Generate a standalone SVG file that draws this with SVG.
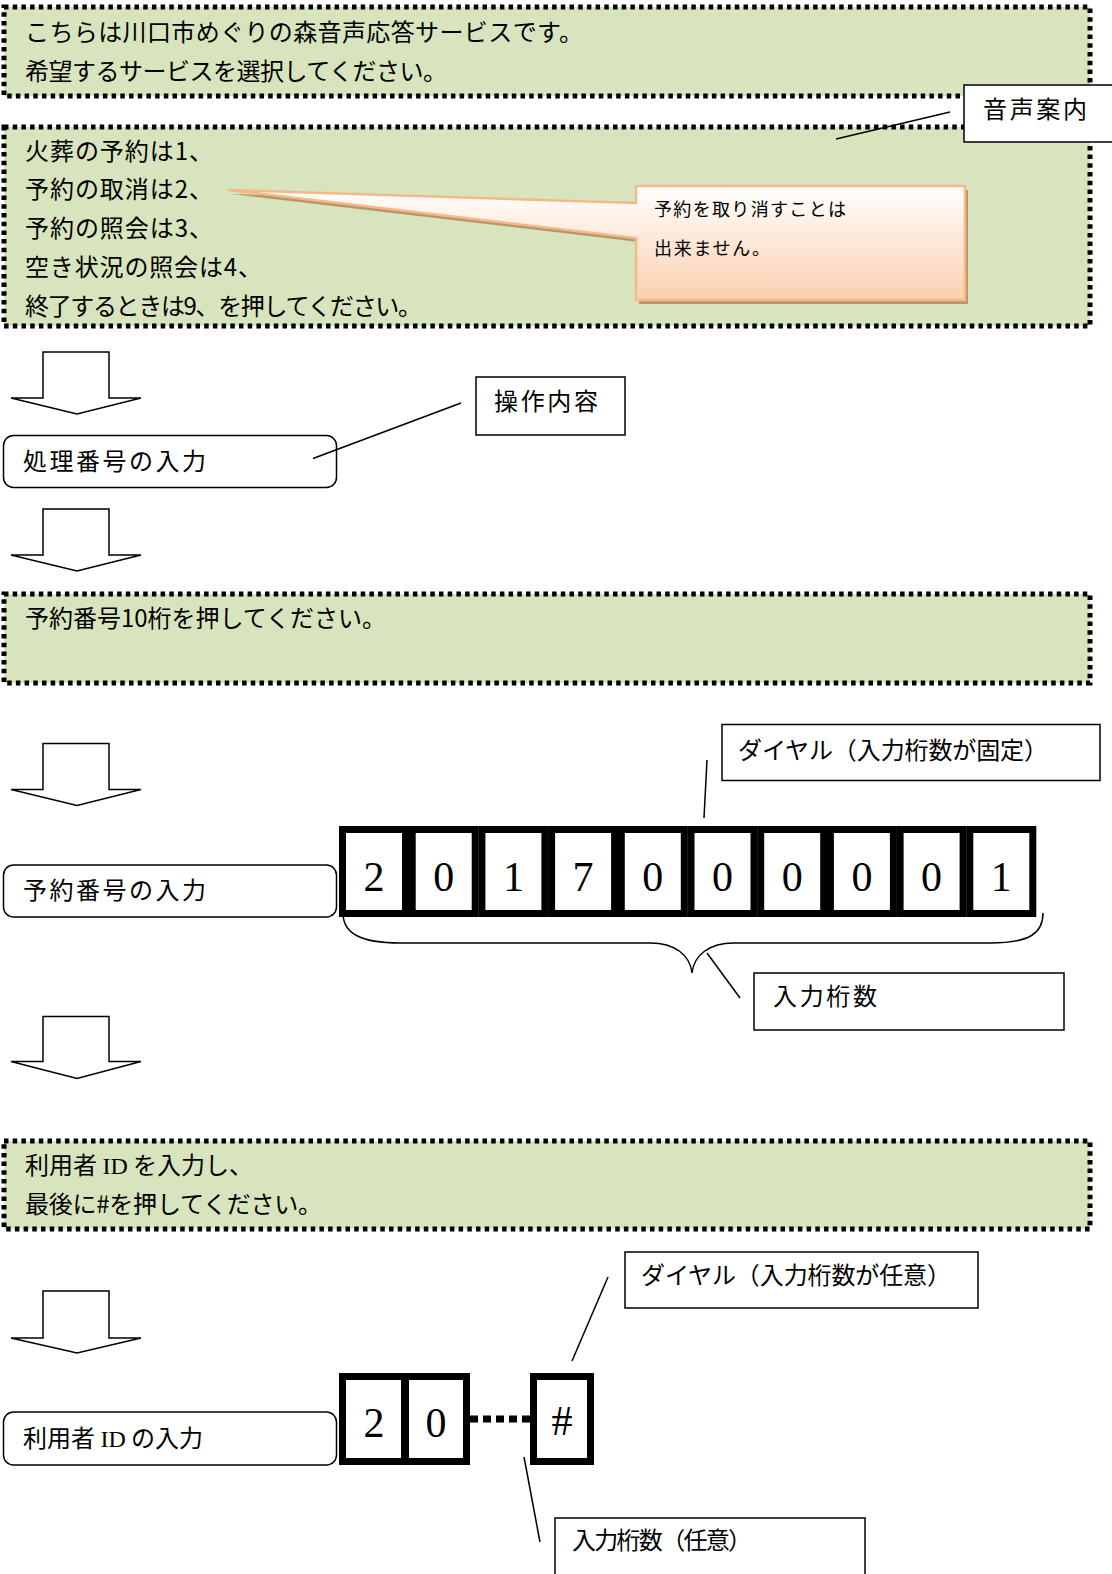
<svg xmlns="http://www.w3.org/2000/svg" width="1112" height="1574" viewBox="0 0 1112 1574">
<defs>
<style>
.jp{font-family:"Noto Sans CJK JP","Noto Sans",sans-serif;fill:#000}
.t22{font-size:24px}
.t17{font-size:18px}
.dot{fill:#d7e4bd;stroke:#000;stroke-width:5;stroke-dasharray:4.5 4.2}
.lbl{fill:#fff;stroke:#000;stroke-width:1.5}
.node{fill:#fff;stroke:#000;stroke-width:1.5}
.arrow{fill:#fff;stroke:#000;stroke-width:1.5;stroke-linejoin:miter}
.ln{stroke:#000;stroke-width:1.5;fill:none}
.cell{fill:#fff;stroke:#000;stroke-width:7}
.dg{font-family:"Liberation Serif","DejaVu Serif",serif;font-size:42px;fill:#000;text-anchor:middle}
</style>
<linearGradient id="peach" x1="0" y1="0" x2="0" y2="1">
<stop offset="0" stop-color="#ffffff"/>
<stop offset="1" stop-color="#fad0b0"/>
</linearGradient>
</defs>

<g id="guide1">
<rect class="dot" x="4" y="7" width="1086" height="89"/>
<text class="jp t22" x="25" y="41" textLength="558" lengthAdjust="spacing">こちらは川口市めぐりの森音声応答サービスです。</text>
<text class="jp t22" x="25" y="80" textLength="422" lengthAdjust="spacing">希望するサービスを選択してください。</text>
</g>

<g id="guide2">
<rect class="dot" x="4" y="127" width="1086" height="199"/>
<text class="jp t22" x="25" y="160" textLength="188" lengthAdjust="spacing">火葬の予約は1、</text>
<text class="jp t22" x="25" y="198" textLength="188" lengthAdjust="spacing">予約の取消は2、</text>
<text class="jp t22" x="25" y="237" textLength="188" lengthAdjust="spacing">予約の照会は3、</text>
<text class="jp t22" x="25" y="276" textLength="237" lengthAdjust="spacing">空き状況の照会は4、</text>
<text class="jp t22" x="25" y="315" textLength="397" lengthAdjust="spacing">終了するときは9、を押してください。</text>
</g>

<g id="callout">
<path d="M639,190 H968 V304 H639 V242 L231,194 L639,207 Z" fill="#b8966a"/>
<path d="M636,186 H965 V300 H636 V238 L228,190 L636,203 Z" fill="url(#peach)" stroke="#f7b887" stroke-width="2.5"/>
<text class="jp t17" x="654" y="216" textLength="192" lengthAdjust="spacing">予約を取り消すことは</text>
<text class="jp t17" x="654" y="255" textLength="116" lengthAdjust="spacing">出来ません。</text>
</g>

<g id="label-voice">
<rect class="lbl" x="964" y="85" width="150" height="57"/>
<text class="jp t22" x="983" y="118" textLength="104" lengthAdjust="spacing">音声案内</text>
</g>

<g id="arrow1"><polygon class="arrow" points="43,352 109,352 109,398 141,398 77,414 11,398 43,398"/></g>

<g id="node-proc">
<rect class="node" x="3.5" y="435.5" width="333" height="52" rx="10"/>
<text class="jp t22" x="23" y="470" textLength="183" lengthAdjust="spacing">処理番号の入力</text>
</g>

<g id="label-op">
<rect class="lbl" x="476" y="377" width="149" height="58"/>
<text class="jp t22" x="494" y="410" textLength="104" lengthAdjust="spacing">操作内容</text>
</g>

<g id="arrow2"><polygon class="arrow" points="43,509 109,509 109,555 141,555 77,571 11,555 43,555"/></g>

<g id="guide3">
<rect class="dot" x="4" y="594" width="1086" height="89"/>
<text class="jp t22" x="25" y="627" textLength="361" lengthAdjust="spacing">予約番号10桁を押してください。</text>
</g>

<g id="arrow3"><polygon class="arrow" points="43,743.5 109,743.5 109,789.5 141,789.5 77,805.5 11,789.5 43,789.5"/></g>

<g id="label-dial-fixed">
<rect class="lbl" x="722" y="724.5" width="378" height="56"/>
<text class="jp t22" x="738" y="759" textLength="310" lengthAdjust="spacing">ダイヤル（入力桁数が固定）</text>
</g>

<g id="node-resv">
<rect class="node" x="3.5" y="865" width="333" height="52" rx="10"/>
<text class="jp t22" x="23" y="899" textLength="183" lengthAdjust="spacing">予約番号の入力</text>
</g>

<g id="digits-fixed">
<rect class="cell" x="342.5" y="829.5" width="63" height="84"/>
<rect class="cell" x="412.2" y="829.5" width="63" height="84"/>
<rect class="cell" x="481.9" y="829.5" width="63" height="84"/>
<rect class="cell" x="551.6" y="829.5" width="63" height="84"/>
<rect class="cell" x="621.3" y="829.5" width="63" height="84"/>
<rect class="cell" x="691" y="829.5" width="63" height="84"/>
<rect class="cell" x="760.7" y="829.5" width="63" height="84"/>
<rect class="cell" x="830.4" y="829.5" width="63" height="84"/>
<rect class="cell" x="900.1" y="829.5" width="63" height="84"/>
<rect class="cell" x="969.8" y="829.5" width="63" height="84"/>
<text class="dg" x="374" y="891">2</text>
<text class="dg" x="443.7" y="891">0</text>
<text class="dg" x="513.4" y="891">1</text>
<text class="dg" x="583.1" y="891">7</text>
<text class="dg" x="652.8" y="891">0</text>
<text class="dg" x="722.5" y="891">0</text>
<text class="dg" x="792.2" y="891">0</text>
<text class="dg" x="861.9" y="891">0</text>
<text class="dg" x="931.6" y="891">0</text>
<text class="dg" x="1001.3" y="891">1</text>
</g>

<g id="brace">
<path class="ln" d="M343,913 C343,933 360,943 400,943 L650,943 C675,943 690,955 692,973 C694,955 709,943 734,943 L990,943 C1030,943 1043,933 1043,913"/>
</g>

<g id="label-digits">
<rect class="lbl" x="754" y="973" width="310" height="57"/>
<text class="jp t22" x="773" y="1005" textLength="104" lengthAdjust="spacing">入力桁数</text>
</g>

<g id="arrow4"><polygon class="arrow" points="43,1016.5 109,1016.5 109,1061.5 141,1061.5 77,1078.5 11,1061.5 43,1061.5"/></g>

<g id="guide4">
<rect class="dot" x="4" y="1141" width="1086" height="88"/>
<text x="25" y="1174" class="jp t22">利用者 <tspan font-family="Liberation Serif,serif">ID</tspan> を入力し、</text>
<text class="jp t22" x="25" y="1213" textLength="297" lengthAdjust="spacing">最後に#を押してください。</text>
</g>

<g id="label-dial-any">
<rect class="lbl" x="625" y="1252" width="353" height="56"/>
<text class="jp t22" x="641" y="1284" textLength="310" lengthAdjust="spacing">ダイヤル（入力桁数が任意）</text>
</g>

<g id="arrow5"><polygon class="arrow" points="43,1291 109,1291 109,1338 141,1338 77,1353 11,1338 43,1338"/></g>

<g id="node-user">
<rect class="node" x="3.5" y="1412" width="333" height="53" rx="10"/>
<text x="23" y="1447" class="jp t22">利用者 <tspan font-family="Liberation Serif,serif">ID</tspan> の入力</text>
</g>

<g id="digits-any">
<rect class="cell" x="342.5" y="1376.5" width="62" height="85"/>
<rect class="cell" x="405.5" y="1376.5" width="61" height="85"/>
<rect class="cell" x="533.5" y="1376.5" width="57" height="85"/>
<line x1="470" y1="1419" x2="532" y2="1419" stroke="#000" stroke-width="7" stroke-dasharray="8 5"/>
<text class="dg" x="374" y="1437">2</text>
<text class="dg" x="436" y="1437">0</text>
<text class="dg" x="562" y="1435" font-size="38">#</text>
</g>

<g id="label-len-any">
<rect class="lbl" x="555" y="1518" width="310" height="70"/>
<text class="jp t22" x="572" y="1549" textLength="180" lengthAdjust="spacing">入力桁数（任意）</text>
</g>

<g id="connectors">
<line class="ln" x1="836" y1="139" x2="950" y2="112"/>
<line class="ln" x1="313" y1="458.5" x2="461" y2="403"/>
<line class="ln" x1="704" y1="818" x2="707" y2="760"/>
<line class="ln" x1="740" y1="998" x2="707" y2="953"/>
<line class="ln" x1="572" y1="1361" x2="608" y2="1277"/>
<line class="ln" x1="524" y1="1457" x2="540" y2="1542"/>
</g>
</svg>
